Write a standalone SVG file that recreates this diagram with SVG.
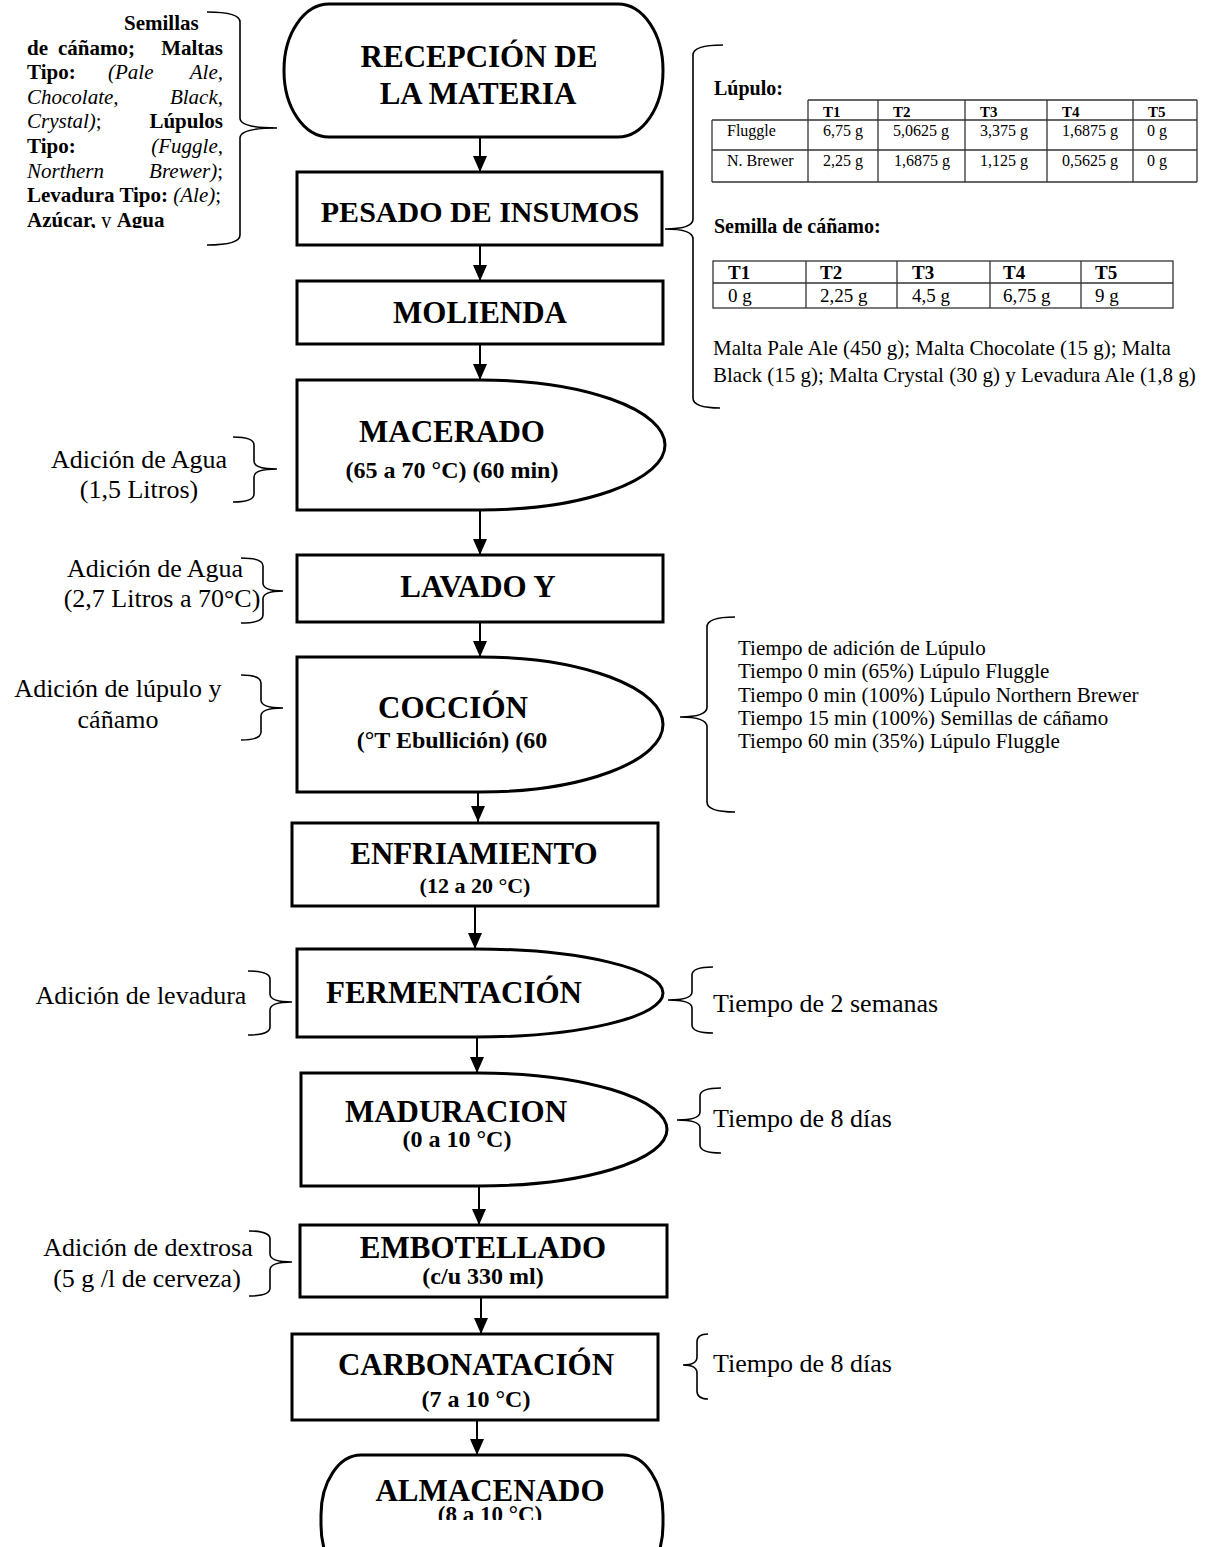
<svg xmlns="http://www.w3.org/2000/svg" width="1215" height="1547" viewBox="0 0 1215 1547">
<style>
text { font-family: "Liberation Serif", "Times New Roman", serif; fill: #000; }
.node { fill: #fff; stroke: #000; stroke-width: 3; }
.title { font-size: 31px; font-weight: bold; text-anchor: middle; }
.sub { font-size: 24px; font-weight: bold; text-anchor: middle; }
.note { font-size: 26px; }
.mid { text-anchor: middle; }
.small { font-size: 21px; }
.b { font-weight: bold; }
.i { font-style: italic; }
.brace { fill: none; stroke: #000; stroke-width: 1.6; }
.tbl { fill: none; stroke: #333; stroke-width: 1.3; }
.th { font-size: 15px; font-weight: bold; }
.td { font-size: 16px; }
.th2 { font-size: 19px; font-weight: bold; }
.td2 { font-size: 19px; }
.conn line { stroke: #000; stroke-width: 2; marker-end: url(#arr); }
</style>
<defs>
<marker id="arr" markerUnits="userSpaceOnUse" markerWidth="16" markerHeight="16" refX="16" refY="8" orient="auto">
<path d="M0,1 L16,8 L0,15 Z" fill="#000"/>
</marker>
<clipPath id="clipTop"><rect x="0" y="0" width="280" height="228"/></clipPath>
<clipPath id="clipAlm"><rect x="300" y="1440" width="400" height="80"/></clipPath>
</defs>

<g id="connectors" class="conn">
<line x1="480" y1="137" x2="480" y2="172"/>
<line x1="480" y1="245" x2="480" y2="281"/>
<line x1="480" y1="344" x2="480" y2="380"/>
<line x1="480" y1="510" x2="480" y2="555"/>
<line x1="480" y1="622" x2="480" y2="657"/>
<line x1="478" y1="782" x2="478" y2="822"/>
<line x1="475" y1="906" x2="475" y2="949"/>
<line x1="477" y1="1037" x2="477" y2="1073"/>
<line x1="479" y1="1186" x2="479" y2="1225"/>
<line x1="481" y1="1297" x2="481" y2="1334"/>
<line x1="477" y1="1420" x2="477" y2="1455"/>
</g>

<g id="recepcion">
<rect class="node" x="284" y="4" width="379" height="133" rx="45" ry="66"/>
<text class="title" x="479" y="67">RECEPCIÓN DE</text>
<text class="title" x="478" y="104">LA MATERIA</text>
</g>

<g id="pesado">
<rect class="node" x="297" y="172" width="365" height="73"/>
<text class="title" x="480" y="222" style="font-size:30px">PESADO DE INSUMOS</text>
</g>

<g id="molienda">
<rect class="node" x="297" y="281" width="366" height="63"/>
<text class="title" x="480" y="323">MOLIENDA</text>
</g>

<g id="macerado">
<path class="node" d="M297,380 H480 A185,65 0 0 1 480,510 H297 Z"/>
<text class="title" x="452" y="442">MACERADO</text>
<text class="sub" x="452" y="478">(65 a 70 °C) (60 min)</text>
</g>

<g id="lavado">
<rect class="node" x="297" y="555" width="366" height="67"/>
<text class="title" x="478" y="597">LAVADO Y</text>
</g>

<g id="coccion">
<path class="node" d="M297,657 H480 A183,67.5 0 0 1 480,792 H297 Z"/>
<text class="title" x="453" y="718">COCCIÓN</text>
<text class="sub" x="452" y="748">(°T Ebullición) (60</text>
</g>

<g id="enfriamiento">
<rect class="node" x="292" y="823" width="366" height="83"/>
<text class="title" x="474" y="864">ENFRIAMIENTO</text>
<text class="sub" x="475" y="893" style="font-size:22px">(12 a 20 °C)</text>
</g>

<g id="fermentacion">
<path class="node" d="M297,949 H475 A188,44 0 0 1 475,1037 H297 Z"/>
<text class="title" x="454" y="1003">FERMENTACIÓN</text>
</g>

<g id="maduracion">
<path class="node" d="M301,1073 H478 A189,56.5 0 0 1 478,1186 H301 Z"/>
<text class="title" x="456" y="1122">MADURACION</text>
<text class="sub" x="457" y="1147">(0 a 10 °C)</text>
</g>

<g id="embotellado">
<rect class="node" x="300" y="1225" width="367" height="72"/>
<text class="title" x="483" y="1258">EMBOTELLADO</text>
<text class="sub" x="483" y="1284">(c/u 330 ml)</text>
</g>

<g id="carbonatacion">
<rect class="node" x="292" y="1334" width="366" height="86"/>
<text class="title" x="476" y="1375">CARBONATACIÓN</text>
<text class="sub" x="476" y="1407">(7 a 10 °C)</text>
</g>

<g id="almacenado">
<rect class="node" x="321" y="1455" width="342" height="130" rx="40" ry="60"/>
<text class="title" x="490" y="1501">ALMACENADO</text>
<text class="sub" x="490" y="1522" style="font-size:23px" clip-path="url(#clipAlm)">(8 a 10 °C)</text>
</g>

<g id="note-insumos">
<path class="brace" d="M207,12 Q240,12 240,22 V118 Q240,128 277,128 Q240,128 240,138 V235 Q240,245 207,245"/>
<g clip-path="url(#clipTop)" class="small">
<text x="124" y="30" class="b">Semillas</text>
<text y="54.6"><tspan x="27" class="b">de</tspan><tspan x="58" class="b">cáñamo;</tspan><tspan x="223" class="b" text-anchor="end">Maltas</tspan></text>
<text y="79.2"><tspan x="27" class="b">Tipo:</tspan><tspan x="108" class="i">(Pale</tspan></text>
<text y="79.2" x="223" text-anchor="end" class="i">Ale,</text>
<text y="103.8" x="27" class="i">Chocolate,</text>
<text y="103.8" x="223" text-anchor="end" class="i">Black,</text>
<text y="128.4" x="27"><tspan class="i">Crystal)</tspan>;</text>
<text y="128.4" x="223" text-anchor="end" class="b">Lúpulos</text>
<text y="153" x="27" class="b">Tipo:</text>
<text y="153" x="223" text-anchor="end" class="i">(Fuggle,</text>
<text y="177.6" x="27" class="i">Northern</text>
<text y="177.6" x="223" text-anchor="end"><tspan class="i">Brewer)</tspan>;</text>
<text y="202.2" x="27"><tspan class="b">Levadura Tipo: </tspan><tspan class="i">(Ale)</tspan>;</text>
<text y="226.8" x="27"><tspan class="b">Azúcar,</tspan> y <tspan class="b">Agua</tspan></text>
</g>
</g>

<g id="note-pesado">
<path class="brace" d="M723,45 Q693,45 693,55 V219 Q693,229 665,229 Q693,229 693,239 V398 Q693,408 720,408"/>
<text x="714" y="95" class="b" style="font-size:20px">Lúpulo:</text>
<g class="tbl">
<line x1="808" y1="100" x2="1197" y2="100"/>
<line x1="712" y1="120" x2="1197" y2="120"/>
<line x1="712" y1="150" x2="1197" y2="150"/>
<line x1="712" y1="182" x2="1197" y2="182"/>
<line x1="712" y1="120" x2="712" y2="182"/>
<line x1="808" y1="100" x2="808" y2="182"/>
<line x1="878" y1="100" x2="878" y2="182"/>
<line x1="965" y1="100" x2="965" y2="182"/>
<line x1="1047" y1="100" x2="1047" y2="182"/>
<line x1="1133" y1="100" x2="1133" y2="182"/>
<line x1="1197" y1="100" x2="1197" y2="182"/>
</g>
<text class="th" y="117"><tspan x="823">T1</tspan><tspan x="893">T2</tspan><tspan x="980">T3</tspan><tspan x="1062">T4</tspan><tspan x="1148">T5</tspan></text>
<text class="td" y="136"><tspan x="727">Fluggle</tspan><tspan x="823">6,75 g</tspan><tspan x="893">5,0625 g</tspan><tspan x="980">3,375 g</tspan><tspan x="1062">1,6875 g</tspan><tspan x="1147">0 g</tspan></text>
<text class="td" y="166"><tspan x="727">N. Brewer</tspan><tspan x="823">2,25 g</tspan><tspan x="894">1,6875 g</tspan><tspan x="980">1,125 g</tspan><tspan x="1062">0,5625 g</tspan><tspan x="1147">0 g</tspan></text>

<text x="714" y="233" class="b" style="font-size:20px">Semilla de cáñamo:</text>
<g class="tbl">
<rect x="713" y="261" width="460" height="47"/>
<line x1="713" y1="283" x2="1173" y2="283"/>
<line x1="806" y1="261" x2="806" y2="308"/>
<line x1="897" y1="261" x2="897" y2="308"/>
<line x1="990" y1="261" x2="990" y2="308"/>
<line x1="1081" y1="261" x2="1081" y2="308"/>
</g>
<text class="th2" y="279"><tspan x="728">T1</tspan><tspan x="820">T2</tspan><tspan x="912">T3</tspan><tspan x="1003">T4</tspan><tspan x="1095">T5</tspan></text>
<text class="td2" y="302"><tspan x="728">0 g</tspan><tspan x="820">2,25 g</tspan><tspan x="912">4,5 g</tspan><tspan x="1003">6,75 g</tspan><tspan x="1095">9 g</tspan></text>

<text class="small" x="713" y="355">Malta Pale Ale (450 g); Malta Chocolate (15 g); Malta</text>
<text class="small" x="713" y="382">Black (15 g); Malta Crystal (30 g) y Levadura Ale (1,8 g)</text>
</g>

<g id="note-macerado">
<path class="brace" d="M233,437 Q254,437 254,445 V461 Q254,469 277,469 Q254,469 254,477 V494 Q254,502 233,502"/>
<text class="note mid" x="139" y="468">Adición de Agua</text>
<text class="note mid" x="139" y="498">(1,5 Litros)</text>
</g>

<g id="note-lavado">
<path class="brace" d="M241,558 Q263,558 263,566 V583 Q263,591 283,591 Q263,591 263,599 V615 Q263,623 241,623"/>
<text class="note mid" x="155" y="577">Adición de Agua</text>
<text class="note mid" x="162" y="607">(2,7 Litros a 70°C)</text>
</g>

<g id="note-coccion-left">
<path class="brace" d="M241,675 Q261,675 261,683 V700 Q261,708 283,708 Q261,708 261,716 V732 Q261,740 241,740"/>
<text class="note mid" x="118" y="697">Adición de lúpulo y</text>
<text class="note mid" x="118" y="728">cáñamo</text>
</g>

<g id="note-coccion-right">
<path class="brace" d="M735,617 Q707,617 707,627 V707 Q707,717 680,717 Q707,717 707,727 V802 Q707,812 735,812"/>
<g class="small">
<text x="738" y="655">Tiempo de adición de Lúpulo</text>
<text x="738" y="678">Tiempo 0 min (65%) Lúpulo Fluggle</text>
<text x="738" y="702">Tiempo 0 min (100%) Lúpulo Northern Brewer</text>
<text x="738" y="725">Tiempo 15 min (100%) Semillas de cáñamo</text>
<text x="738" y="748">Tiempo 60 min (35%) Lúpulo Fluggle</text>
</g>
</g>

<g id="note-fermentacion-left">
<path class="brace" d="M248,971 Q270,971 270,979 V994 Q270,1002 292,1002 Q270,1002 270,1010 V1027 Q270,1035 248,1035"/>
<text class="note mid" x="141" y="1004">Adición de levadura</text>
</g>

<g id="note-fermentacion-right">
<path class="brace" d="M713,967 Q692,967 692,975 V992 Q692,1000 668,1000 Q692,1000 692,1008 V1025 Q692,1033 713,1033"/>
<text class="note" x="713" y="1012">Tiempo de 2 semanas</text>
</g>

<g id="note-maduracion">
<path class="brace" d="M721,1088 Q700,1088 700,1096 V1112 Q700,1120 677,1120 Q700,1120 700,1128 V1145 Q700,1153 721,1153"/>
<text class="note" x="713" y="1127">Tiempo de 8 días</text>
</g>

<g id="note-embotellado">
<path class="brace" d="M249,1231 Q270,1231 270,1239 V1254 Q270,1262 292,1262 Q270,1262 270,1270 V1288 Q270,1296 249,1296"/>
<text class="note mid" x="148" y="1256">Adición de dextrosa</text>
<text class="note mid" x="147" y="1287">(5 g /l de cerveza)</text>
</g>

<g id="note-carbonatacion">
<path class="brace" d="M708,1334 Q697,1334 697,1342 V1357 Q697,1365 683,1365 Q697,1365 697,1373 V1391 Q697,1399 708,1399"/>
<text class="note" x="713" y="1372">Tiempo de 8 días</text>
</g>
</svg>
